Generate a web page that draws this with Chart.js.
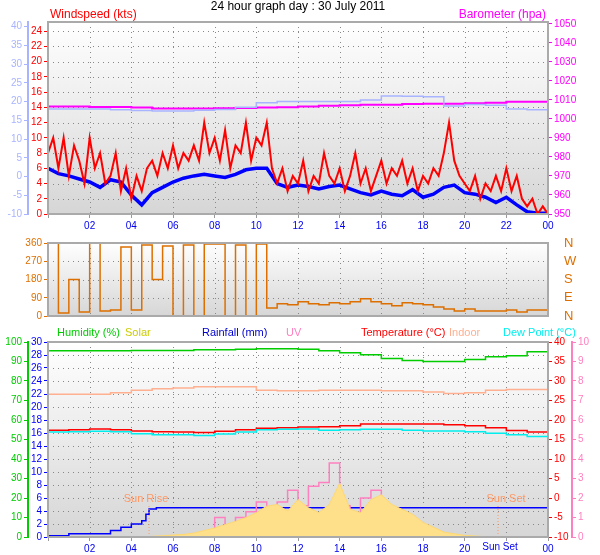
<!DOCTYPE html>
<html>
<head>
<meta charset="utf-8">
<script src="https://cdn.jsdelivr.net/npm/chart.js@4.4.0/dist/chart.umd.min.js"></script>
<style>
  body { margin: 0; background: #fff; }
  canvas { position: absolute; left: 0; }
</style>
</head>
<body>
<canvas id="top" style="top:0px" width="600" height="232"></canvas>
<canvas id="dir" style="top:232px" width="600" height="88"></canvas>
<canvas id="bot" style="top:320px" width="600" height="235"></canvas>
<script>
// ---- data ----
const gustValues = [8,10,6,10,5,9,7,4,10,6,8,4, 5,8,3,6,2,5,3,6, 7,5,8,6,9,6,8,7,
  9,7,12,8,10,7,11,6,9,8,12,7,10,9,12,6, 4,6,3,5,4,7,3,5,4,8,5,4,
  6,3,5,8,4,6,3,5,7,4,6,5, 7,4,6,3,5,4,6,5, 8,12,7,5, 4,3,5,2,4,3,5,3, 6,3,5,2,1,2,0,1, 0];
const windAvg = [6,5.3,5,4.6,4.2,3.5,4.5,4.2,2.5,1.2,2.8,3.5,4.2,4.7,5,5.2,5,4.8,5.2,5.8,6,6,
  4,3.5,3.8,3.6,3.3,3.6,3.8,3.3,2.8,2.5,3,2.6,2.4,3.2,2.2,2.6,3.5,3.8,2.8,2.6,2.2,1.5,2.2,1.2,0.3,0.1,0.1];
const paleLine = [18,18,18,18,17.8,17.6,17.5,17.5,17.7,17.9,18.5,19.7,20,20,20,20,20.4,21.5,21.4,21.3,18.8,19.2,19,18,17.8];
const barometer = [1006.5,1006.5,1006.5,1006.3,1006.3,1006,1005.5,1005.5,1005.5,1005.6,1005.8,1006,1006.2,
  1006.5,1007,1007.2,1007.5,1007.5,1007.8,1008,1008,1008.3,1008.5,1009,1009];
const windDir = [20,360,15,180,20,360,25,30,340,30,350,180,345,0,350,0,355,355,0,350,0,355,
  40,60,55,70,60,55,65,60,70,85,70,60,50,65,60,55,45,35,25,35,25,25,25,30,20,30,30];
const humidity = [95,95.5,95.5,95.5,95.5,95.7,95.7,95.7,96,96,96.3,96.5,96.5,96.3,95.5,94.5,93.5,91.5,90.5,90,90,91,92.5,93,95];
const indoor = [26.6,26.6,26.6,26.6,27,27.6,28,28.2,28.5,28.5,28.5,27.6,27.5,27.5,27.6,27.6,27.6,27.5,27.5,27.2,26.8,27,27.6,27.8,27.8];
const temperature = [17.3,17.4,17.5,17.7,17.5,17.2,17,16.9,16.8,17.1,17.5,17.9,18,18.2,18.3,18.5,19,19,19,19,18.8,18.5,18,17.3,16.9];
const dewPoint = [16.8,16.9,17,17.1,17,16.5,16.2,16.2,16,16.4,16.9,17.5,17.6,17.7,17.4,17.5,17.6,17.6,17.4,17.2,17.2,17,16.6,16.2,15.8];
const rainHours = [0,1,3,3.5,4,4.5,4.7,4.85,5.2,9,24,24];
const rainValues = [0,0.2,0.5,1,1.5,2,2.5,3.5,4.3,4.5,4.5,0];
const solar = [0,0,0,0,0,0,0,0,0,0, 4,8,12,16,24,40,56,76,96,120,150,190,200,160,230,180,150,200,330,170,
  150,230,260,200,170,140,90,60,30,20,10,6,2,0, 0,0,0,0,0];
const uv = [0,0,0,0,0,0,0,0,0,0,0,0,0,0,0,0,0, 1,0.2,1,1.3,1.8,1.4,1.8,2.4,1.6,2.6,2.8,3.8,1.6,1,2,2.4,1.5,1.3,1,0.6,0,
  0,0,0,0,0,0,0,0,0,0,0];
const dirLabels = ['N','E','S','W','N'];
const sunRise = 4.85, sunSet = 21.6;

// ---- helpers ----
function pts(step, values) { return values.map((v, i) => ({x: i * step, y: v})); }
const FONT = {family: 'Liberation Sans', size: 10};
function hourTick(v) { return v === 0 ? '' : String(v % 24).padStart(2, '0'); }
function fixWidth(w) { return function(scale) { scale.width = w; }; }
function fixWidthNoPad(w) { return function(scale) { scale.width = w; scale.paddingTop = 0; scale.paddingBottom = 0; }; }

// background gradient, dotted grid from x and the main y scale, grey frame
function bgPlugin(mainY) {
  return { id: 'bg',
    beforeDatasetsDraw(chart) {
      const a = chart.chartArea, c = chart.ctx;
      const g = c.createLinearGradient(0, a.top, 0, a.bottom);
      g.addColorStop(0, '#ffffff');
      g.addColorStop(1, '#d6d6d6');
      c.save(); c.fillStyle = g; c.fillRect(a.left, a.top, a.width, a.height);
      c.strokeStyle = '#888'; c.lineWidth = 1; c.setLineDash([1, 4]);
      const xs = chart.scales.x;
      for (let h = 2; h < 24; h += 2) {
        const px = Math.round(xs.getPixelForValue(h)) + 0.5;
        c.beginPath(); c.moveTo(px, a.top); c.lineTo(px, a.bottom); c.stroke();
      }
      const ys = chart.scales[mainY];
      ys.ticks.forEach(t => {
        const py = Math.round(ys.getPixelForValue(t.value)) + 0.5;
        c.beginPath(); c.moveTo(a.left, py); c.lineTo(a.right, py); c.stroke();
      });
      c.restore();
    },
    afterDraw(chart) {
      const a = chart.chartArea, c = chart.ctx;
      c.save(); c.strokeStyle = '#aaaaaa'; c.lineWidth = 2;
      c.strokeRect(a.left, a.top, a.width, a.height); c.restore();
    }
  };
}
function textPlugin(items) {
  return { id: 'texts', afterDraw(chart) {
    const c = chart.ctx; c.save();
    items.forEach(t => {
      c.font = (t.size || 11) + 'px Liberation Sans';
      c.fillStyle = t.color; c.textAlign = t.align || 'left'; c.textBaseline = 'middle';
      c.fillText(t.text, t.x, t.y);
    });
    c.restore();
  }};
}
function xAxis(showLabels, cb) {
  return { type: 'linear', min: 0, max: 24, position: 'bottom', display: showLabels,
    afterFit: function(s) { s.height = showLabels ? 18 : 0; },
    ticks: { stepSize: 2, autoSkip: false, color: '#0000ee', font: FONT,
      callback: cb || hourTick, maxRotation: 0, padding: 2 },
    grid: { drawOnChartArea: false, color: '#999', tickLength: 4 },
    border: { display: false } };
}
function yAxis(pos, min, max, step, color, width, weight, cb) {
  return { type: 'linear', position: pos, min: min, max: max, weight: weight, afterFit: fixWidth(width),
    ticks: { stepSize: step, autoSkip: false, includeBounds: false, color: color, font: FONT, padding: 2, callback: cb },
    grid: { drawOnChartArea: false, color: color, tickLength: 4 },
    border: { display: true, color: color, width: 2 } };
}
const baseOpts = {
  animation: false, responsive: false, events: [],
  plugins: { legend: { display: false }, tooltip: { enabled: false } },
  elements: { point: { radius: 0 } }
};

// ---- top: wind & barometer ----
new Chart(document.getElementById('top'), {
  type: 'line',
  data: { datasets: [
    { data: pts(1, paleLine), yAxisID: 'yPale', borderColor: '#a8b4ff', borderWidth: 1.5, stepped: 'after' },
    { data: pts(1, barometer), yAxisID: 'yBaro', borderColor: '#ff00ff', borderWidth: 2, stepped: 'after' },
    { data: pts(0.25, gustValues), yAxisID: 'yWind', borderColor: '#ff0000', borderWidth: 2 },
    { data: pts(0.5, windAvg), yAxisID: 'yWind', borderColor: '#0000ff', borderWidth: 3.5 }
  ]},
  options: Object.assign({}, baseOpts, {
    layout: { padding: { top: 22, bottom: 0 } },
    scales: {
      x: xAxis(true),
      yWind: yAxis('left', 0, 25.2, 2, '#ff0000', 20, 0),
      yPale: yAxis('left', -10, 41.2, 5, '#a8b4ff', 28, 1),
      yBaro: yAxis('right', 950, 1051, 10, '#ff00ff', 52, 0)
    }
  }),
  plugins: [bgPlugin('yWind'), textPlugin([
    { text: '24 hour graph day : 30 July 2011', x: 298, y: 7, color: '#000', align: 'center', size: 12 },
    { text: 'Windspeed (kts)', x: 50, y: 15, color: '#ff0000', size: 12 },
    { text: 'Barometer (hpa)', x: 546, y: 15, color: '#ff00ff', align: 'right', size: 12 }
  ])]
});

// ---- middle: wind direction ----
const dirLeft = yAxis('left', 0, 360, 90, '#dd6f00', 48, 0);
dirLeft.afterFit = fixWidthNoPad(48);
const dirRight = yAxis('right', 0, 360, 90, '#dd6f00', 52, 0, v => dirLabels[v / 90]);
dirRight.afterFit = fixWidthNoPad(52);
dirRight.ticks.font = {family: 'Liberation Sans', size: 13};
dirRight.ticks.padding = 8;
dirRight.grid = { display: false };
dirRight.border = { display: false };
new Chart(document.getElementById('dir'), {
  type: 'line',
  data: { datasets: [
    { data: pts(0.5, windDir), yAxisID: 'yDir', borderColor: '#dd6f00', borderWidth: 1.5, stepped: 'after' }
  ]},
  options: Object.assign({}, baseOpts, {
    layout: { padding: { top: 11, bottom: 4 } },
    scales: { x: xAxis(false), yDir: dirLeft, yDir2: dirRight }
  }),
  plugins: [bgPlugin('yDir')]
});

// ---- bottom: temperature, humidity, rain, solar, uv ----
const sunPlugin = { id: 'sun', afterDatasetsDraw(chart) {
  const c = chart.ctx, xs = chart.scales.x, a = chart.chartArea;
  c.save(); c.strokeStyle = '#ff9966'; c.setLineDash([1, 2]); c.lineWidth = 1;
  [sunRise, sunSet].forEach(h => {
    const px = xs.getPixelForValue(h);
    c.beginPath(); c.moveTo(px, a.bottom); c.lineTo(px, a.bottom - 33); c.stroke();
  });
  c.setLineDash([]); c.font = '11px Liberation Sans'; c.fillStyle = '#ff9966'; c.textAlign = 'center';
  c.fillText('Sun Rise', xs.getPixelForValue(sunRise) - 3, a.bottom - 35);
  c.fillText('Sun Set', xs.getPixelForValue(sunSet) + 8, a.bottom - 35);
  c.fillStyle = '#0000ee'; c.font = '10px Liberation Sans';
  c.fillText('Sun Set', xs.getPixelForValue(sunSet) + 2, a.bottom + 13);
  c.restore();
}};
new Chart(document.getElementById('bot'), {
  type: 'line',
  data: { datasets: [
    { data: pts(0.5, solar), yAxisID: 'ySolar', borderColor: '#ffd870', backgroundColor: '#ffe08a', fill: 'origin', borderWidth: 1 },
    { data: pts(0.5, uv), yAxisID: 'yUV', borderColor: '#ff80c0', borderWidth: 1.5, stepped: 'after' },
    { data: rainHours.map((h, i) => ({x: h, y: rainValues[i]})), yAxisID: 'yRain', borderColor: '#0000ff', borderWidth: 1.5, stepped: 'after' },
    { data: pts(1, humidity), yAxisID: 'yHum', borderColor: '#00cc00', borderWidth: 1.5, stepped: 'after' },
    { data: pts(1, indoor), yAxisID: 'yTemp', borderColor: '#ffb090', borderWidth: 1.5, stepped: 'after' },
    { data: pts(1, dewPoint), yAxisID: 'yTemp', borderColor: '#00eeee', borderWidth: 1.5, stepped: 'after' },
    { data: pts(1, temperature), yAxisID: 'yTemp', borderColor: '#ff0000', borderWidth: 1.5, stepped: 'after' }
  ]},
  options: Object.assign({}, baseOpts, {
    layout: { padding: { top: 22, bottom: 0 } },
    scales: {
      x: xAxis(true, v => (v === 0 || v === 22) ? '' : hourTick(v)),
      yRain: yAxis('left', 0, 30, 2, '#0000ff', 20, 0),
      yHum: yAxis('left', 0, 100, 10, '#00cc00', 28, 1),
      yTemp: yAxis('right', -10, 40, 5, '#ff0000', 24, 0),
      yUV: yAxis('right', 0, 10, 1, '#ff80c0', 28, 1),
      ySolar: { type: 'linear', display: false, min: 0, max: 1200 }
    }
  }),
  plugins: [bgPlugin('yRain'), sunPlugin, textPlugin([
    { text: 'Humidity (%)', x: 57, y: 13, color: '#00cc00' },
    { text: 'Solar', x: 125, y: 13, color: '#cccc00' },
    { text: 'Rainfall (mm)', x: 202, y: 13, color: '#0000cc' },
    { text: 'UV', x: 286, y: 13, color: '#ff80c0' },
    { text: 'Temperature (°C)', x: 361, y: 13, color: '#ff0000' },
    { text: 'Indoor', x: 449, y: 13, color: '#ffb090' },
    { text: 'Dew Point (°C)', x: 503, y: 13, color: '#00eeee' }
  ])]
});
</script>
</body>
</html>
